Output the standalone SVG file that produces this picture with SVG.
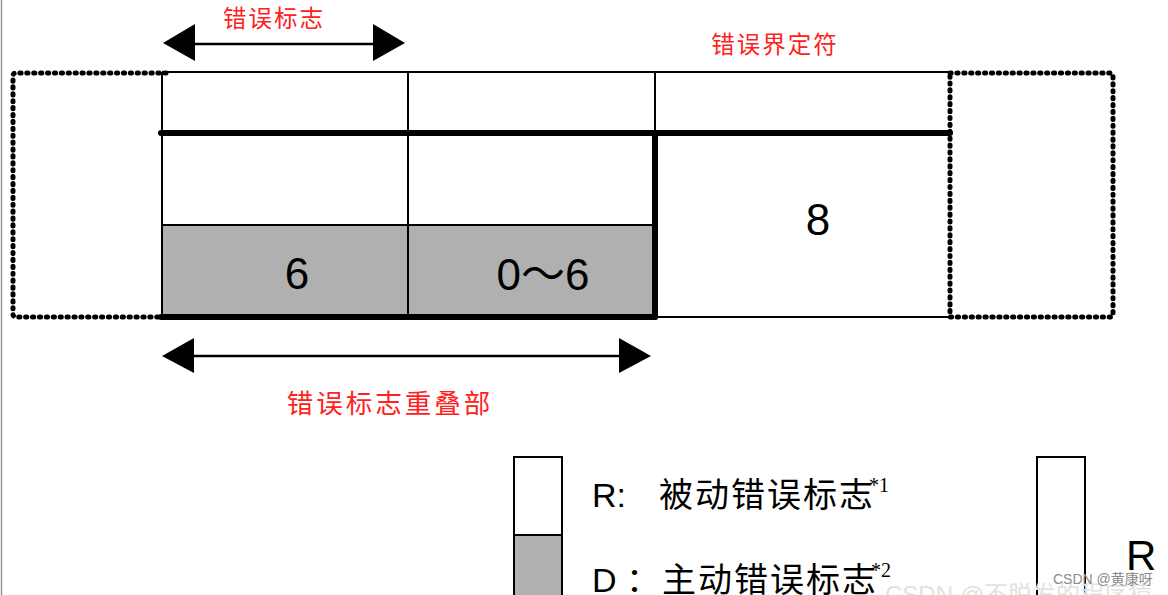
<svg xmlns="http://www.w3.org/2000/svg" width="1168" height="595" viewBox="0 0 1168 595">
<style>
.thin{stroke:#000;stroke-width:2;fill:none}
.thick{stroke:#000;stroke-width:6;fill:none;stroke-linecap:round}
.dot{stroke:#000;stroke-width:5;fill:none;stroke-dasharray:1.2 5.7;stroke-linecap:round;stroke-linejoin:round}
.red{fill:#ff2020;font-family:"Noto Sans CJK SC","Noto Sans",sans-serif}
.num{fill:#000;font-family:"Liberation Sans","Noto Sans CJK SC",sans-serif;font-size:44px;text-anchor:middle}
.leg{fill:#000;font-family:"Liberation Sans","Noto Sans CJK SC",sans-serif;font-size:34px}
.cjk{fill:#000;font-family:"Noto Sans CJK SC",sans-serif;font-size:34px;letter-spacing:2px}
.sup{fill:#000;font-family:"Liberation Serif",serif;font-size:20px}
.gray{fill:#b0b0b0}
.arrow{stroke:#000;stroke-width:2.5;fill:none}
</style>
<rect width="1168" height="595" fill="#fff"/>
<line x1="1.5" y1="0" x2="1.5" y2="595" stroke="#999" stroke-width="1.5"/>

<g id="left-frame">
<path class="dot" d="M166,73 H16 Q13,73 13,76 V314 Q13,317 16,317 H162"/>
</g>

<g id="right-frame">
<path class="dot" d="M950,73 H1110 Q1113,73 1113,76 V314 Q1113,317 1110,317 H950 Z"/>
</g>

<g id="error-flag">
<rect class="gray" x="162" y="225" width="246" height="92"/>
<text class="num" x="297" y="289">6</text>
</g>
<g id="overlap">
<rect class="gray" x="408" y="225" width="245" height="92"/>
<text class="num" x="543" y="290">0～6</text>
</g>
<g id="delimiter">
<text class="num" x="818" y="235">8</text>
</g>

<g id="grid">
<line class="thin" x1="162" y1="72" x2="950" y2="72"/>
<line class="thin" x1="162" y1="72" x2="162" y2="317"/>
<line class="thin" x1="408" y1="72" x2="408" y2="317"/>
<line class="thin" x1="655" y1="72" x2="655" y2="133"/>
<line class="thin" x1="162" y1="225" x2="653" y2="225"/>
<line class="thin" x1="655" y1="317" x2="950" y2="317"/>
<line class="thick" x1="161" y1="133" x2="950" y2="133"/>
<line class="thick" x1="655" y1="133" x2="655" y2="317"/>
<line class="thick" x1="161" y1="317" x2="655" y2="317"/>
</g>

<g id="labels">
<text class="red" x="274" y="27" font-size="23.5" text-anchor="middle" letter-spacing="2">错误标志</text>
<text class="red" x="775" y="53" font-size="23.5" text-anchor="middle" letter-spacing="2">错误界定符</text>
<text class="red" x="390" y="413" font-size="26.5" text-anchor="middle" letter-spacing="3">错误标志重叠部</text>
</g>

<g id="connectors">
<line class="arrow" x1="190" y1="44" x2="378" y2="44"/>
<polygon points="163,43 195,24 195,61"/>
<polygon points="405,43 373,24 373,61"/>
<line class="arrow" x1="190" y1="356" x2="625" y2="356"/>
<polygon points="162,356 194,338 194,373"/>
<polygon points="651,356 619,338 619,373"/>
</g>

<g id="legend">
<rect x="514" y="457" width="48" height="78" fill="#fff" stroke="#000" stroke-width="2"/>
<rect x="514" y="535" width="48" height="70" class="gray" stroke="#000" stroke-width="2"/>
<text class="leg" x="592" y="507">R:</text>
<text class="cjk" x="659" y="507">被动错误标志</text>
<text class="sup" x="869" y="492">*1</text>
<text class="leg" x="592" y="592">D</text>
<text class="cjk" x="626" y="592">：</text>
<text class="cjk" x="662" y="592">主动错误标志</text>
<text class="sup" x="871" y="577">*2</text>
<rect x="1037" y="457" width="48" height="150" fill="#fff" stroke="#000" stroke-width="2"/>
<text fill="#000" font-family="Liberation Sans,sans-serif" font-size="42" x="1126" y="570">R</text>
</g>

<g id="watermark">
<text x="885" y="603" fill="#e2e2e2" font-family="Liberation Sans,Noto Sans CJK SC,sans-serif" font-size="24">CSDN @不脱发的程序猿</text>
<text x="1053" y="584" fill="#8a8a8a" font-family="Liberation Sans,Noto Sans CJK SC,sans-serif" font-size="14">CSDN @黄康呀</text>
</g>
</svg>
